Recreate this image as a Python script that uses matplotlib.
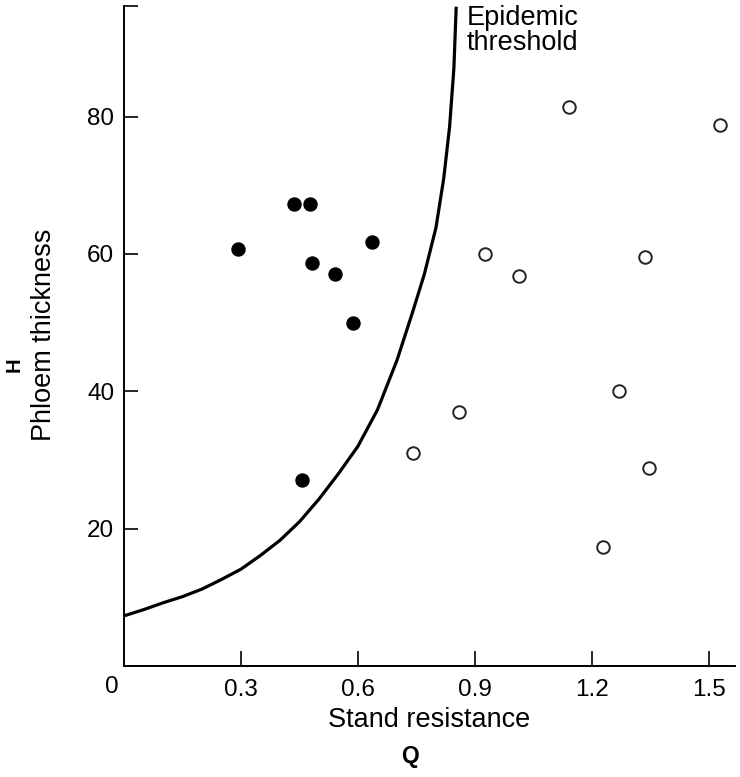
import matplotlib
matplotlib.use("Agg")
import matplotlib.pyplot as plt

# Epidemic threshold curve
thresh_q = [0.0, 0.05, 0.10, 0.15, 0.20, 0.25, 0.30, 0.35, 0.40, 0.45, 0.50,
            0.55, 0.60, 0.65, 0.70, 0.74, 0.77, 0.80, 0.82, 0.835, 0.846, 0.852]
thresh_h = [7.3, 8.2, 9.2, 10.1, 11.2, 12.6, 14.1, 16.1, 18.3, 21.0, 24.3,
            28.0, 32.0, 37.3, 44.5, 51.5, 57.0, 63.8, 71.0, 78.5, 87.0, 96.0]

# Epidemic stands (filled)
epi_q = [0.292, 0.436, 0.477, 0.482, 0.541, 0.587, 0.636, 0.456]
epi_h = [60.7, 67.3, 67.3, 58.7, 57.1, 49.9, 61.7, 27.1]

# Non-epidemic stands (open)
non_q = [1.141, 1.528, 0.926, 1.013, 1.336, 1.269, 0.741, 0.86, 1.346, 1.228]
non_h = [81.4, 78.8, 60.0, 56.8, 59.6, 40.0, 31.0, 37.0, 28.8, 17.3]

x_ticks = [0.3, 0.6, 0.9, 1.2, 1.5]
x_ticklabels = ["0.3", "0.6", "0.9", "1.2", "1.5"]
y_ticks = [20, 40, 60, 80]
y_ticklabels = ["20", "40", "60", "80"]

plt.rcParams['font.family'] = ['Liberation Sans', 'DejaVu Sans']
FS = 17.5   # tick labels
LFS = 19.5  # text labels

W, H = 740, 777
fig = plt.figure(figsize=(W / 100, H / 100), dpi=100)
ax = fig.add_axes([124 / W, 1 - 666 / H, (735 - 124) / W, (666 - 6) / H])

YTOP = 96.1
ax.set_xlim(0, 1.567)
ax.set_ylim(0, YTOP)

ax.plot(thresh_q, thresh_h, color='black', lw=2.3, solid_capstyle='butt',
        solid_joinstyle='round')
ax.scatter(epi_q, epi_h, s=13 ** 2 * 0.52, color='black', zorder=3)
ax.scatter(non_q, non_h, s=12.5 ** 2 * 0.52, facecolor='white', edgecolor='#222222',
           linewidths=1.4, zorder=3)

for s in ['top', 'right']:
    ax.spines[s].set_visible(False)
for s in ['left', 'bottom']:
    ax.spines[s].set_linewidth(1.4)

ax.set_xticks(x_ticks)
ax.set_xticklabels(x_ticklabels)
ax.set_yticks(y_ticks + [YTOP])
ax.set_yticklabels(y_ticklabels + [""])
ax.tick_params(axis='both', direction='in', labelsize=FS, width=1.2)
ax.tick_params(axis='y', length=10, pad=7)
ax.tick_params(axis='x', length=10.5, pad=9)

# "0" at origin
fig.text(112 / W, 1 - 687 / H, "0", fontsize=FS, ha='center', va='center')

# Axis labels
fig.text(429 / W, 1 - 720 / H, "Stand resistance", fontsize=LFS, ha='center', va='center')
fig.text(410 / W, 1 - 757 / H, "Q", fontsize=LFS - 3, fontweight='bold', ha='center', va='center')
fig.text(44 / W, 1 - 335 / H, "Phloem thickness", fontsize=LFS, rotation=90,
         ha='center', va='center')
fig.text(14 / W, 1 - 365 / H, "H", fontsize=LFS - 5, fontweight='bold', rotation=90,
         ha='center', va='center')

# Curve label
fig.text(467 / W, 1 - 5 / H, "Epidemic\nthreshold", fontsize=LFS, ha='left', va='top',
         linespacing=0.93)

fig.savefig("out.png", dpi=100)
